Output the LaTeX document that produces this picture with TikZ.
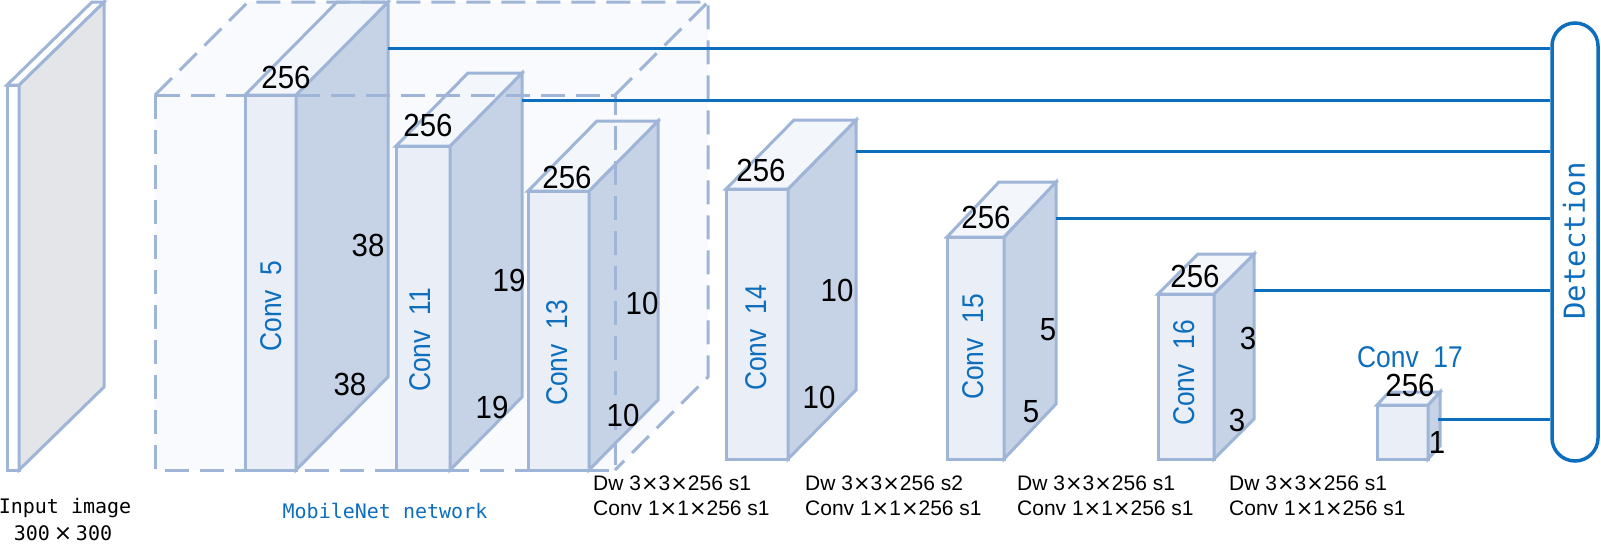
\documentclass[tikz,border=0pt]{standalone}
\usepackage{fontspec}
\setmainfont{Liberation Sans}
\newfontfamily\monof{DejaVu Sans Mono}
\newfontfamily\dvs{DejaVu Sans}
\newfontfamily\numf[FakeStretch=0.92]{Liberation Sans}
\newfontfamily\convf[FakeStretch=0.88]{Liberation Sans}
\newcommand\mytimes{{\dvs ×}}
\usetikzlibrary{calc}
\definecolor{edgec}{HTML}{9EB5D7}
\definecolor{frontc}{HTML}{E9EEF7}
\definecolor{sidec}{HTML}{C6D3E6}
\definecolor{topc}{HTML}{F3F6FB}
\definecolor{bluec}{HTML}{0E6EBE}
\definecolor{grayc}{HTML}{E4E5E8}
\definecolor{boxfill}{HTML}{F8FAFD}
\newcommand\cuboid[7]{%
  \filldraw[#7front] (#1,#3) rectangle (#2,#4);
  \filldraw[#7side] (#2,#3) -- ++(#5,-#6) -- ++(0,{#4-#3}) -- (#2,#4) -- cycle;
  \filldraw[#7top] (#1,#3) -- ++(#5,-#6) -- ++({#2-#1},0) -- (#2,#3) -- cycle;
}
\begin{document}
\begin{tikzpicture}[x=1pt,y=-1pt,
  blkfront/.style={draw=edgec,fill=frontc,line width=3pt},
  blkside/.style={draw=edgec,fill=sidec,line width=3pt},
  blktop/.style={draw=edgec,fill=topc,line width=3pt},
  inpfront/.style={draw=edgec,fill=white,line width=3pt},
  inpside/.style={draw=edgec,fill=grayc,line width=3pt},
  inptop/.style={draw=edgec,fill=white,line width=3pt},
  dashbox/.style={draw=edgec,line width=3pt,dash pattern=on 24pt off 11pt},
  conn/.style={draw=bluec,line width=3pt},
  num/.style={font=\numf\fontsize{32}{34}\selectfont,text=black,inner sep=0pt},
  cname/.style={font=\convf\fontsize{30}{32}\selectfont,text=bluec,inner sep=0pt,rotate=90},
  note/.style={font=\fontsize{21}{25}\selectfont,text=black,inner sep=0pt,anchor=base west},
  mono/.style={font=\monof\fontsize{20}{24}\selectfont,inner sep=0pt,anchor=base}
]
\useasboundingbox (0,0) rectangle (1601,544);
% MobileNet dashed box fill
\fill[boxfill] (155,95) rectangle (615,470);
\fill[boxfill] (155,95) -- ++(93,-93) -- ++(460,0) -- (615,95) -- cycle;
\fill[boxfill] (615,95) -- ++(93,-93) -- ++(0,375) -- (615,470) -- cycle;
% input image
\cuboid{7}{19}{85}{470}{85}{83}{inp}
% blocks
\cuboid{245}{296}{95}{470}{92}{93}{blk}
\cuboid{396}{450}{146}{470}{72}{73}{blk}
\cuboid{528}{589}{191}{470}{69}{70}{blk}
\cuboid{726}{788}{189}{459}{68}{69}{blk}
\cuboid{947}{1004}{237}{459}{52}{55}{blk}
\cuboid{1158}{1214}{294}{459}{40}{40}{blk}
\cuboid{1377}{1428}{405}{459}{12}{13}{blk}
% dashed outline
\draw[dashbox] (155,95) rectangle (615,470);
\draw[dashbox] (155,95) -- (248,2) -- (708,2) -- (708,377) -- (615,470);
\draw[dashbox] (615,95) -- (708,2);
% detection
\node[draw=bluec,line width=3.5pt,fill=white,rounded corners=23pt,minimum width=46pt,minimum height=438pt,inner sep=0pt] (det) at (1575,242) {};
\node[font=\monof\fontsize{29}{30}\selectfont,text=bluec,rotate=90,inner sep=0pt] (detl) at (1574,241) {Detection};
% connectors
\coordinate (o5) at (388,48);
\coordinate (o11) at (522,100);
\coordinate (o14) at (856,151);
\coordinate (o15) at (1056,218);
\coordinate (o16) at (1254,290);
\coordinate (o17) at (1438,419);
\foreach \c in {o5,o11,o14,o15,o16,o17} \draw[conn] (\c) -- (\c -| det.west);
% labels conv5
\node[num] (a1) at (286,77) {256};
\node[num] (a2) at (368,245) {38};
\node[num] (a3) at (350,384) {38};
\node[cname] (a4) at (271,306) {Conv\ \ 5};
% conv11
\node[num] (b1) at (428,125) {256};
\node[num] (b2) at (509,280) {19};
\node[num] (b3) at (492,407) {19};
\node[cname] (b4) at (420,340) {Conv\ \ 11};
% conv13
\node[num] (c1) at (567,177) {256};
\node[num] (c2) at (642,303) {10};
\node[num] (c3) at (623,415) {10};
\node[cname] (c4) at (557,353) {Conv\ \ 13};
% conv14
\node[num] (d1) at (761,170) {256};
\node[num] (d2) at (837,290) {10};
\node[num] (d3) at (819,397) {10};
\node[cname] (d4) at (756,338) {Conv\ \ 14};
% conv15
\node[num] (e1) at (986,217) {256};
\node[num] (e2) at (1048,330) {5};
\node[num] (e3) at (1031,412) {5};
\node[cname] (e4) at (973,347) {Conv\ \ 15};
% conv16
\node[num] (f1) at (1195,276) {256};
\node[num] (f2) at (1248,338) {3};
\node[num] (f3) at (1237,420) {3};
\node[cname] (f4) at (1184,373) {Conv\ \ 16};
% conv17
\node[cname,rotate=-90] (g4) at (1410,357) {Conv\ \ 17};
\node[num] (g1) at (1410,385) {256};
\node[num] (g2) at (1437,442) {1};
% notes
\foreach \nx/\s [count=\k] in {593/1,805/2,1017/1,1229/1} {
  \node[note] (n\k a) at (\nx,490) {Dw 3\mytimes3\mytimes256 s\s};
  \node[note] (n\k b) at (\nx,515) {Conv 1\mytimes1\mytimes256 s1};
}
% captions
\node[mono] (i1) at (65,513) {Input image};
\node[mono] (i2) at (63,540) {300\makebox[26pt]{\dvs\fontsize{22}{24}\selectfont ×}300};
\node[mono,text=bluec] (m1) at (385,518) {MobileNet network};
\end{tikzpicture}
\end{document}
